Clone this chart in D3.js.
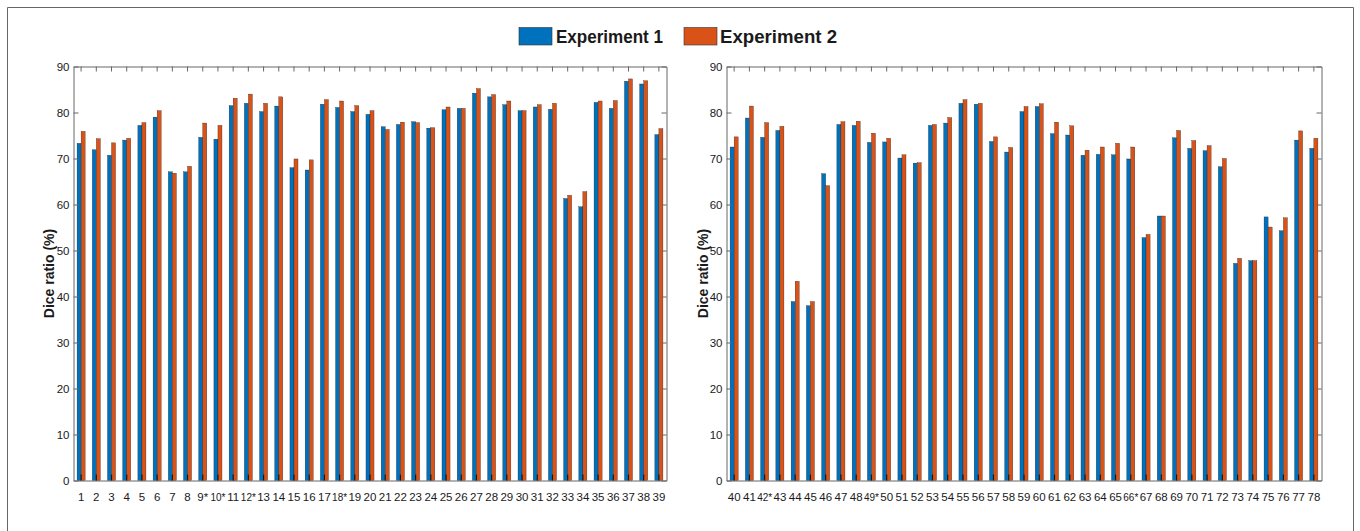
<!DOCTYPE html>
<html>
<head>
<meta charset="utf-8">
<script src="https://cdn.jsdelivr.net/npm/d3@7"></script>
<style>
  html, body { margin: 0; padding: 0; background: #fff; }
  svg { display: block; }
  text { font-family: "Liberation Sans", Arial, Helvetica, sans-serif; }
</style>
</head>
<body>
<svg id="chart" width="1360" height="531"></svg>
<script>
// ---------- DATA ----------
const categoriesLeft = ["1","2","3","4","5","6","7","8","9*","10*","11","12*","13","14","15","16","17","18*","19","20","21","22","23","24","25","26","27","28","29","30","31","32","33","34","35","36","37","38","39"];
const exp1Left = [73.3,71.9,70.7,74.0,77.2,79.0,67.1,67.1,74.6,74.2,81.5,82.0,80.2,81.4,68.0,67.5,81.8,81.1,80.2,79.6,76.9,77.4,78.0,76.6,80.6,80.9,84.2,83.4,81.7,80.4,81.2,80.7,61.3,59.5,82.2,80.9,86.8,86.2,75.2];
const exp2Left = [75.9,74.3,73.4,74.4,77.8,80.4,66.8,68.3,77.7,77.2,83.1,84.0,82.0,83.4,69.9,69.7,82.8,82.5,81.5,80.4,76.3,77.9,77.8,76.7,81.2,80.9,85.2,83.9,82.5,80.4,81.7,82.0,62.0,62.8,82.5,82.6,87.3,86.9,76.5];

const categoriesRight = ["40","41","42*","43","44","45","46","47","48","49*","50","51","52","53","54","55","56","57","58","59","60","61","62","63","64","65","66*","67","68","69","70","71","72","73","74","75","76","77","78"];
const exp1Right = [72.5,78.8,74.6,76.1,38.9,38.0,66.7,77.4,77.2,73.5,73.6,70.1,69.0,77.2,77.7,82.0,81.8,73.7,71.4,80.2,81.3,75.4,75.1,70.7,70.9,70.8,69.9,52.8,57.5,74.5,72.2,71.7,68.2,47.2,47.8,57.3,54.3,74.0,72.2];
const exp2Right = [74.7,81.4,77.8,77.0,43.3,38.9,64.1,78.0,78.1,75.5,74.4,70.8,69.1,77.4,78.9,82.8,82.0,74.7,72.4,81.3,81.9,77.9,77.1,71.8,72.5,73.3,72.5,53.5,57.5,76.1,73.9,72.8,70.0,48.3,47.8,55.1,57.1,76.0,74.4];

const yTicks = [0,10,20,30,40,50,60,70,80,90];
const seriesNames = ["Experiment 1", "Experiment 2"];
const seriesColors = ["#0072BD", "#D95319"];
const yLabel = "Dice ratio (%)";

// ---------- DRAW ----------
const svg = d3.select("#chart");

// outer figure frame
svg.append("path")
  .attr("d", "M7.5,531 L7.5,7.5 L1353.5,7.5 L1353.5,531")
  .attr("fill", "none").attr("stroke", "#666").attr("stroke-width", 1);

function drawPanel(cats, s1, s2, x0, x1, labelX) {
  const top = 66.5, bottom = 480.5;
  const x = d3.scaleBand().domain(cats).range([x0, x1]).paddingInner(0).paddingOuter(0);
  const y = d3.scaleLinear().domain([0, 90]).range([bottom, top]);
  const step = x.bandwidth();
  const bw = step * 0.265;
  const g = svg.append("g");

  const data = cats.map((c, i) => ({ c, v1: s1[i], v2: s2[i] }));
  g.selectAll("rect.b1").data(data).enter().append("rect")
    .attr("x", d => x(d.c) + step / 2 - bw)
    .attr("y", d => y(d.v1))
    .attr("width", bw)
    .attr("height", d => y(0) - y(d.v1))
    .attr("fill", seriesColors[0])
    .attr("stroke", "#1a1a1a").attr("stroke-width", 0.3);
  g.selectAll("rect.b2").data(data).enter().append("rect")
    .attr("x", d => x(d.c) + step / 2)
    .attr("y", d => y(d.v2))
    .attr("width", bw)
    .attr("height", d => y(0) - y(d.v2))
    .attr("fill", seriesColors[1])
    .attr("stroke", "#1a1a1a").attr("stroke-width", 0.3);

  // bottom axis (ticks pointing inward)
  const xAxis = g.append("g").attr("transform", `translate(0,${bottom})`)
    .call(d3.axisBottom(x).tickSizeInner(-6).tickSizeOuter(0).tickPadding(12));
  xAxis.select(".domain").attr("stroke", "#666");
  xAxis.selectAll(".tick line").attr("stroke", "#1a1a1a").attr("stroke-width", 1.2);
  xAxis.selectAll(".tick text").attr("font-size", 11.5).attr("fill", "#1a1a1a")
    .attr("textLength", function(d) { return d.length > 2 ? 15 : null; })
    .attr("lengthAdjust", "spacingAndGlyphs");

  // top axis ticks
  const xTop = g.append("g").attr("transform", `translate(0,${top})`)
    .call(d3.axisTop(x).tickSizeInner(-5).tickSizeOuter(0).tickFormat(""));
  xTop.select(".domain").attr("stroke", "#666");
  xTop.selectAll(".tick line").attr("stroke", "#666");

  // left axis
  const yAxis = g.append("g").attr("transform", `translate(${x0},0)`)
    .call(d3.axisLeft(y).tickValues(yTicks).tickSizeInner(-5).tickSizeOuter(0).tickPadding(4));
  yAxis.select(".domain").attr("stroke", "#666");
  yAxis.selectAll(".tick line").attr("stroke", "#666");
  yAxis.selectAll(".tick text").attr("font-size", 11.5).attr("fill", "#1a1a1a");

  // right axis
  const yRight = g.append("g").attr("transform", `translate(${x1},0)`)
    .call(d3.axisRight(y).tickValues(yTicks).tickSizeInner(-5).tickSizeOuter(0).tickFormat(""));
  yRight.select(".domain").attr("stroke", "#666");
  yRight.selectAll(".tick line").attr("stroke", "#666");

  // y label
  g.append("text")
    .attr("transform", `translate(${labelX},${(top + bottom) / 2}) rotate(-90)`)
    .attr("text-anchor", "middle")
    .attr("font-size", 14).attr("font-weight", "bold").attr("fill", "#1a1a1a")
    .text(yLabel);
}

drawPanel(categoriesLeft, exp1Left, exp2Left, 73.5, 666.5, 54);
drawPanel(categoriesRight, exp1Right, exp2Right, 726.5, 1321.5, 708);

// legend
const legend = svg.append("g");
const legendItems = [
  { name: seriesNames[0], color: seriesColors[0], bx: 519, tx: 556, tl: 107 },
  { name: seriesNames[1], color: seriesColors[1], bx: 684, tx: 720, tl: 117 }
];
legendItems.forEach(it => {
  legend.append("rect").attr("x", it.bx).attr("y", 27.5).attr("width", 33).attr("height", 17.5)
    .attr("fill", it.color).attr("stroke", "#333").attr("stroke-width", 0.6);
  legend.append("text").attr("x", it.tx).attr("y", 43)
    .attr("font-size", 17.5).attr("font-weight", "bold").attr("fill", "#1a1a1a")
    .attr("textLength", it.tl).attr("lengthAdjust", "spacingAndGlyphs")
    .text(it.name);
});
</script>
</body>
</html>
